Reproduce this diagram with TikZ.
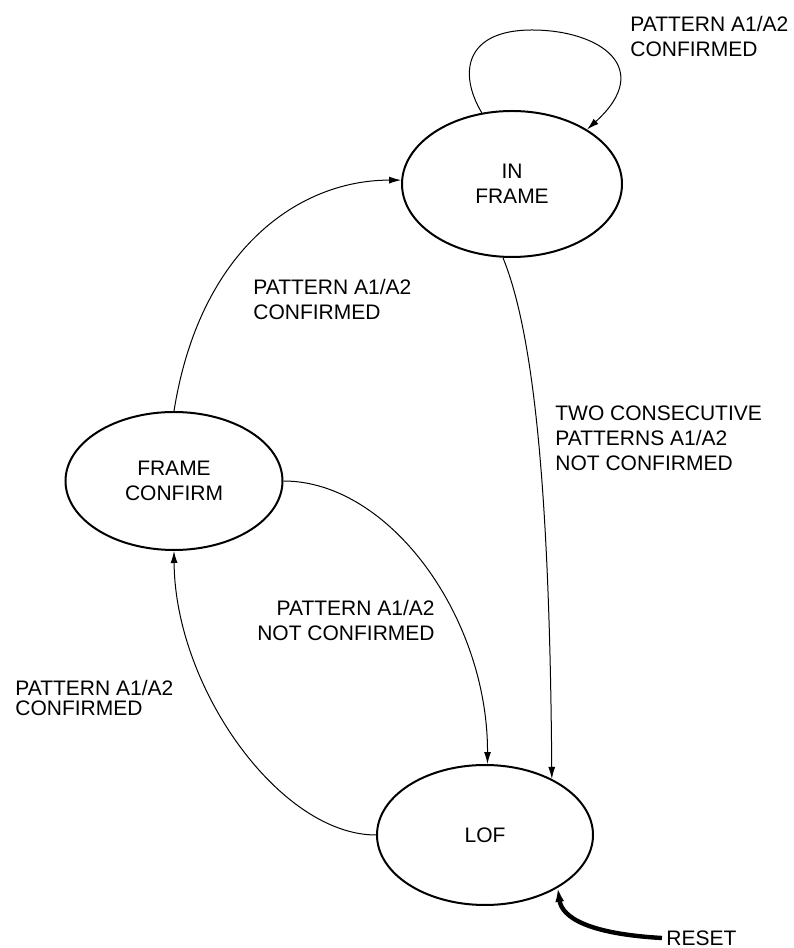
\documentclass[tikz,border=0pt]{standalone}
\usepackage{fontspec}
\setmainfont{Liberation Sans}
\usepackage{tikz}
\usetikzlibrary{shapes,arrows.meta,positioning,calc}

\begin{document}
\begin{tikzpicture}[x=0.5pt, y=0.5pt,
    >={Latex[length=6pt,width=3.5pt]},
    stateell/.style={ellipse, draw, line width=1pt, inner sep=0pt, align=center,
        font=\fontsize{10.5}{12.5}\selectfont},
    lbl/.style={inner sep=0pt, align=left, font=\fontsize{10.5}{12.5}\selectfont},
    trans/.style={->, line width=0.5pt}]
            \useasboundingbox (0,0) rectangle (793,948);

            % States
            \node[stateell, minimum width=110pt, minimum height=73pt] (inframe) at (512,764) {IN\\FRAME};
            \node[stateell, minimum width=108.5pt, minimum height=69pt] (frameconfirm) at (174,467) {FRAME\\CONFIRM};
            \node[stateell, minimum width=108pt, minimum height=70pt] (lof) at (485,113) {LOF};

            % Self loop on IN FRAME
            \draw[trans] (inframe.113) .. controls (458,875) and (465,918) .. (532,918)
                .. controls (600,918) and (655,880) .. (inframe.36);
            \node[lbl, anchor=north west] (lblloop) at (630,932) {PATTERN A1/A2\\CONFIRMED};

            % FRAME CONFIRM to IN FRAME
            \draw[trans] (frameconfirm.north) .. controls (200,700) and (300,768) .. (inframe.178);
            \node[lbl, anchor=north west] (lblconf) at (253,669) {PATTERN A1/A2\\CONFIRMED};

            % IN FRAME to LOF
            \draw[trans] (inframe.263) .. controls (540,600) and (550,400) .. (lof.40);
            \node[lbl, anchor=north west] (lbltwo) at (555,543) {TWO CONSECUTIVE\\PATTERNS A1/A2\\NOT CONFIRMED};

            % FRAME CONFIRM to LOF
            \draw[trans] (frameconfirm.east) .. controls (390,467) and (488,330) .. (lof.88);
            \node[lbl, anchor=north east, align=right] (lblnot) at (435,348) {PATTERN A1/A2\\NOT CONFIRMED};

            % LOF to FRAME CONFIRM
            \draw[trans] (lof.west) .. controls (280,113) and (175,260) .. (frameconfirm.south);
            \node[lbl, anchor=north west, font=\fontsize{10.5}{10}\selectfont] (lblback) at (15,268) {PATTERN A1/A2\\CONFIRMED};

            % Reset
            \node[inner sep=2pt, anchor=west, font=\fontsize{10.5}{12.5}\selectfont] (reset) at (662,10) {RESET};
            \draw[-{Latex[length=7pt,width=4.5pt]}, line width=2.2pt] (reset.west) .. controls (590,14) and (562,30) .. (lof.-36);
        \end{tikzpicture}
\end{document}
